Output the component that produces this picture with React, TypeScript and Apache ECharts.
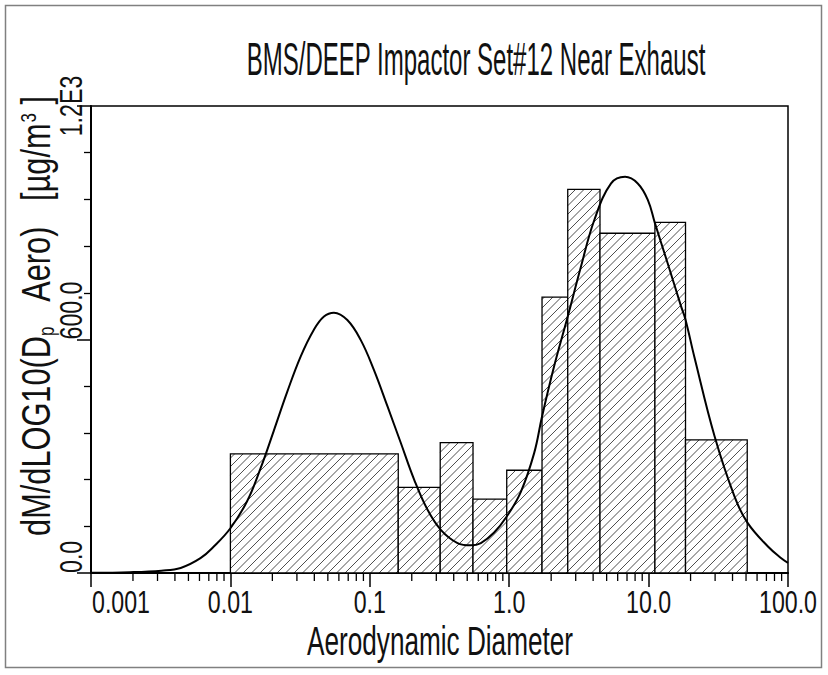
import React, { useEffect, useRef } from 'react';
import * as echarts from 'echarts';

// Impactor stage boundaries (aerodynamic diameter, µm) and stage values
const binEdges = [0.01, 0.16, 0.32, 0.55, 0.96, 1.72, 2.63, 4.48, 11.1, 18.4, 51.0];
const binValues = [306, 220, 335, 190, 264, 709, 986, 873, 901, 342];

// Fitted bimodal curve
const curveDiameters = [
  0.001, 0.0019, 0.0032, 0.0044, 0.0061, 0.0076, 0.01, 0.0132, 0.0165, 0.0205,
  0.0256, 0.0319, 0.0397, 0.0469, 0.0553, 0.069, 0.086, 0.107, 0.134, 0.167,
  0.208, 0.259, 0.323, 0.426, 0.531, 0.626, 0.78, 0.96, 1.21, 1.51,
  1.72, 2.1, 2.63, 3.27, 4.08, 5.38, 6.78, 8.36, 9.87, 11.1,
  13.7, 17.1, 18.4, 21.3, 29.7, 41.3, 51.0, 71.8, 89.5, 100,
];
const curveValues = [
  0.5, 2, 6, 13, 38, 68, 115, 185, 270, 366,
  466, 556, 625, 659, 669, 650, 599, 522, 428, 334,
  240, 163, 111, 77, 71, 77, 104, 145, 208, 308,
  402, 531, 659, 787, 907, 1001, 1018, 1001, 959, 899,
  796, 685, 651, 555, 352, 197, 130, 68, 38, 26,
];

const xTickValues = [0.001, 0.01, 0.1, 1, 10, 100];
const xTickLabels = ['0.001', '0.01', '0.1', '1.0', '10.0', '100.0'];
const yTickValues = [0, 600, 1200];
const yTickLabels = ['0.0', '600.0', '1.2E3'];
const minorTickValues = [
  0.002, 0.003, 0.004, 0.005, 0.006, 0.007, 0.008, 0.009,
  0.02, 0.03, 0.04, 0.05, 0.06, 0.07, 0.08, 0.09,
  0.2, 0.3, 0.4, 0.5, 0.6, 0.7, 0.8, 0.9,
  2, 3, 4, 5, 6, 7, 8, 9,
  20, 30, 40, 50, 60, 70, 80, 90,
];

const TITLE = 'BMS/DEEP Impactor Set#12 Near Exhaust';
const X_NAME = 'Aerodynamic Diameter';

export default function App() {
  const ref = useRef<HTMLDivElement>(null);

  useEffect(() => {
    const el = ref.current!;
    const chart = echarts.init(el, null, { renderer: 'svg' });
    const FAM = 'Liberation Sans';
    const canvas = document.createElement('canvas');
    const ctx = canvas.getContext('2d')!;
    const measure = (t: string, size: number) => {
      ctx.font = `${size}px "${FAM}"`;
      return ctx.measureText(t).width;
    };
    const INK = '#111';

    const bars = binValues.map((v, i) => [binEdges[i], binEdges[i + 1], v]);
    const curve = curveDiameters.map((d, i) => [d, curveValues[i]]);

    const HATCH = 8.5;
    const renderBar = (params: any, api: any) => {
      const pb = api.coord([api.value(0), 0]);
      const pt = api.coord([api.value(1), api.value(2)]);
      const x0 = pb[0], x1 = pt[0], yt = pt[1], yb = pb[1];
      const children: any[] = [
        { type: 'rect', shape: { x: x0, y: yt, width: x1 - x0, height: yb - yt }, style: { fill: '#fff' } },
      ];
      const cStart = Math.ceil((x0 + yt) / HATCH) * HATCH;
      for (let c = cStart; c <= x1 + yb; c += HATCH) {
        const ya = Math.max(yt, c - x1);
        const yz = Math.min(yb, c - x0);
        if (yz - ya > 0.5) {
          children.push({
            type: 'line',
            shape: { x1: c - ya, y1: ya, x2: c - yz, y2: yz },
            style: { stroke: '#222', lineWidth: 0.8 },
          });
        }
      }
      children.push({
        type: 'rect',
        shape: { x: x0, y: yt, width: x1 - x0, height: yb - yt },
        style: { fill: 'none', stroke: '#000', lineWidth: 1.3 },
      });
      return { type: 'group', children };
    };

    const renderMinorTick = (params: any, api: any) => {
      const p = api.coord([api.value(0), 0]);
      return {
        type: 'line',
        shape: { x1: p[0], y1: p[1], x2: p[0], y2: p[1] + 8 },
        style: { stroke: '#000', lineWidth: 1.3 },
      };
    };

    chart.setOption({
      animation: false,
      backgroundColor: '#fff',
      grid: { left: 91, top: 106, width: 697, height: 467, show: true, borderColor: '#000', borderWidth: 1.5, backgroundColor: 'transparent' },
      xAxis: {
        type: 'log',
        logBase: 10,
        min: 0.001,
        max: 100,
        splitNumber: 5,
        axisLine: { onZero: false, lineStyle: { color: '#000', width: 2 } },
        axisTick: { length: 14, lineStyle: { color: '#000', width: 1.5 } },
        axisLabel: { show: false },
        splitLine: { show: false },
      },
      yAxis: {
        type: 'value',
        min: 0,
        max: 1200,
        interval: 600,
        axisLine: { show: true, lineStyle: { color: '#000', width: 2 } },
        axisTick: { show: true, length: 14, lineStyle: { color: '#000', width: 1.5 } },
        minorTick: { show: true, splitNumber: 5, length: 7, lineStyle: { color: '#000', width: 1.3 } },
        axisLabel: { show: false },
        splitLine: { show: false },
      },
      series: [
        {
          type: 'custom',
          name: 'stages',
          renderItem: renderBar,
          encode: { x: [0, 1], y: 2 },
          data: bars,
          clip: true,
          z: 2,
          silent: true,
        },
        {
          type: 'line',
          name: 'fit',
          data: curve,
          showSymbol: false,
          smooth: 0.4,
          lineStyle: { color: '#000', width: 2 },
          z: 5,
          silent: true,
        },
        {
          type: 'custom',
          name: 'minorTicks',
          renderItem: renderMinorTick,
          encode: { x: 0, y: 1 },
          data: minorTickValues.map((v) => [v, 0]),
          clip: false,
          z: 6,
          silent: true,
        },
      ],
    });

    const px = (v: number) => chart.convertToPixel({ xAxisIndex: 0 }, v) as number;
    const py = (v: number) => chart.convertToPixel({ yAxisIndex: 0 }, v) as number;

    const TICK_F = 31;
    const tickSx = 58 / measure('0.001', TICK_F);
    const titleF = 46;
    const titleSx = 459 / measure(TITLE, titleF);
    const nameF = 40;
    const xNameSx = 266 / measure(X_NAME, nameF);
    const subF = 22;
    const yParts = ['dM/dLOG10(D', 'p', '   Aero)   [µg/m', '3', ' ]'];
    const yNameW =
      measure(yParts[0], nameF) + measure(yParts[1], subF) + measure(yParts[2], nameF) +
      measure(yParts[3], subF) + measure(yParts[4], nameF);
    const yNameSx = 440 / yNameW;

    const graphics: any[] = [
      {
        type: 'rect',
        shape: { x: 5.5, y: 5.5, width: 816, height: 662 },
        style: { fill: 'none', stroke: '#808080', lineWidth: 1.5 },
        silent: true,
      },
      {
        type: 'text',
        x: 476,
        y: 59,
        scaleX: titleSx,
        style: { text: TITLE, fontSize: titleF, fontFamily: FAM, fill: INK, align: 'center', verticalAlign: 'middle' },
      },
      {
        type: 'text',
        x: 440,
        y: 641,
        scaleX: xNameSx,
        style: { text: X_NAME, fontSize: nameF, fontFamily: FAM, fill: INK, align: 'center', verticalAlign: 'middle' },
      },
      {
        type: 'text',
        x: 37,
        y: 316,
        rotation: Math.PI / 2,
        scaleX: yNameSx,
        style: {
          text: `${yParts[0]}{s|${yParts[1]}}${yParts[2]}{u|${yParts[3]}}${yParts[4]}`,
          fontSize: nameF,
          fontFamily: FAM,
          fill: INK,
          align: 'center',
          verticalAlign: 'middle',
          rich: {
            s: { fontSize: subF, fontFamily: FAM, fill: INK, verticalAlign: 'bottom' },
            u: { fontSize: subF, fontFamily: FAM, fill: INK, verticalAlign: 'top' },
          },
        },
      },
    ];

    xTickValues.forEach((v, i) => {
      const isFirst = i === 0;
      graphics.push({
        type: 'text',
        x: isFirst ? px(v) + 1 : px(v),
        y: 602,
        scaleX: tickSx,
        style: {
          text: xTickLabels[i],
          fontSize: TICK_F,
          fontFamily: FAM,
          fill: INK,
          align: isFirst ? 'left' : 'center',
          verticalAlign: 'middle',
        },
      });
    });

    yTickValues.forEach((v, i) => {
      const isLast = i === yTickValues.length - 1;
      graphics.push({
        type: 'text',
        x: 71,
        y: py(v),
        rotation: Math.PI / 2,
        scaleX: tickSx,
        style: {
          text: yTickLabels[i],
          fontSize: TICK_F,
          fontFamily: FAM,
          fill: INK,
          align: isLast ? 'center' : 'left',
          verticalAlign: 'middle',
        },
      });
    });

    chart.setOption({ graphic: graphics });

    return () => chart.dispose();
  }, []);

  return <div ref={ref} style={{ position: 'absolute', left: 0, top: 0, width: 828, height: 675 }} />;
}
